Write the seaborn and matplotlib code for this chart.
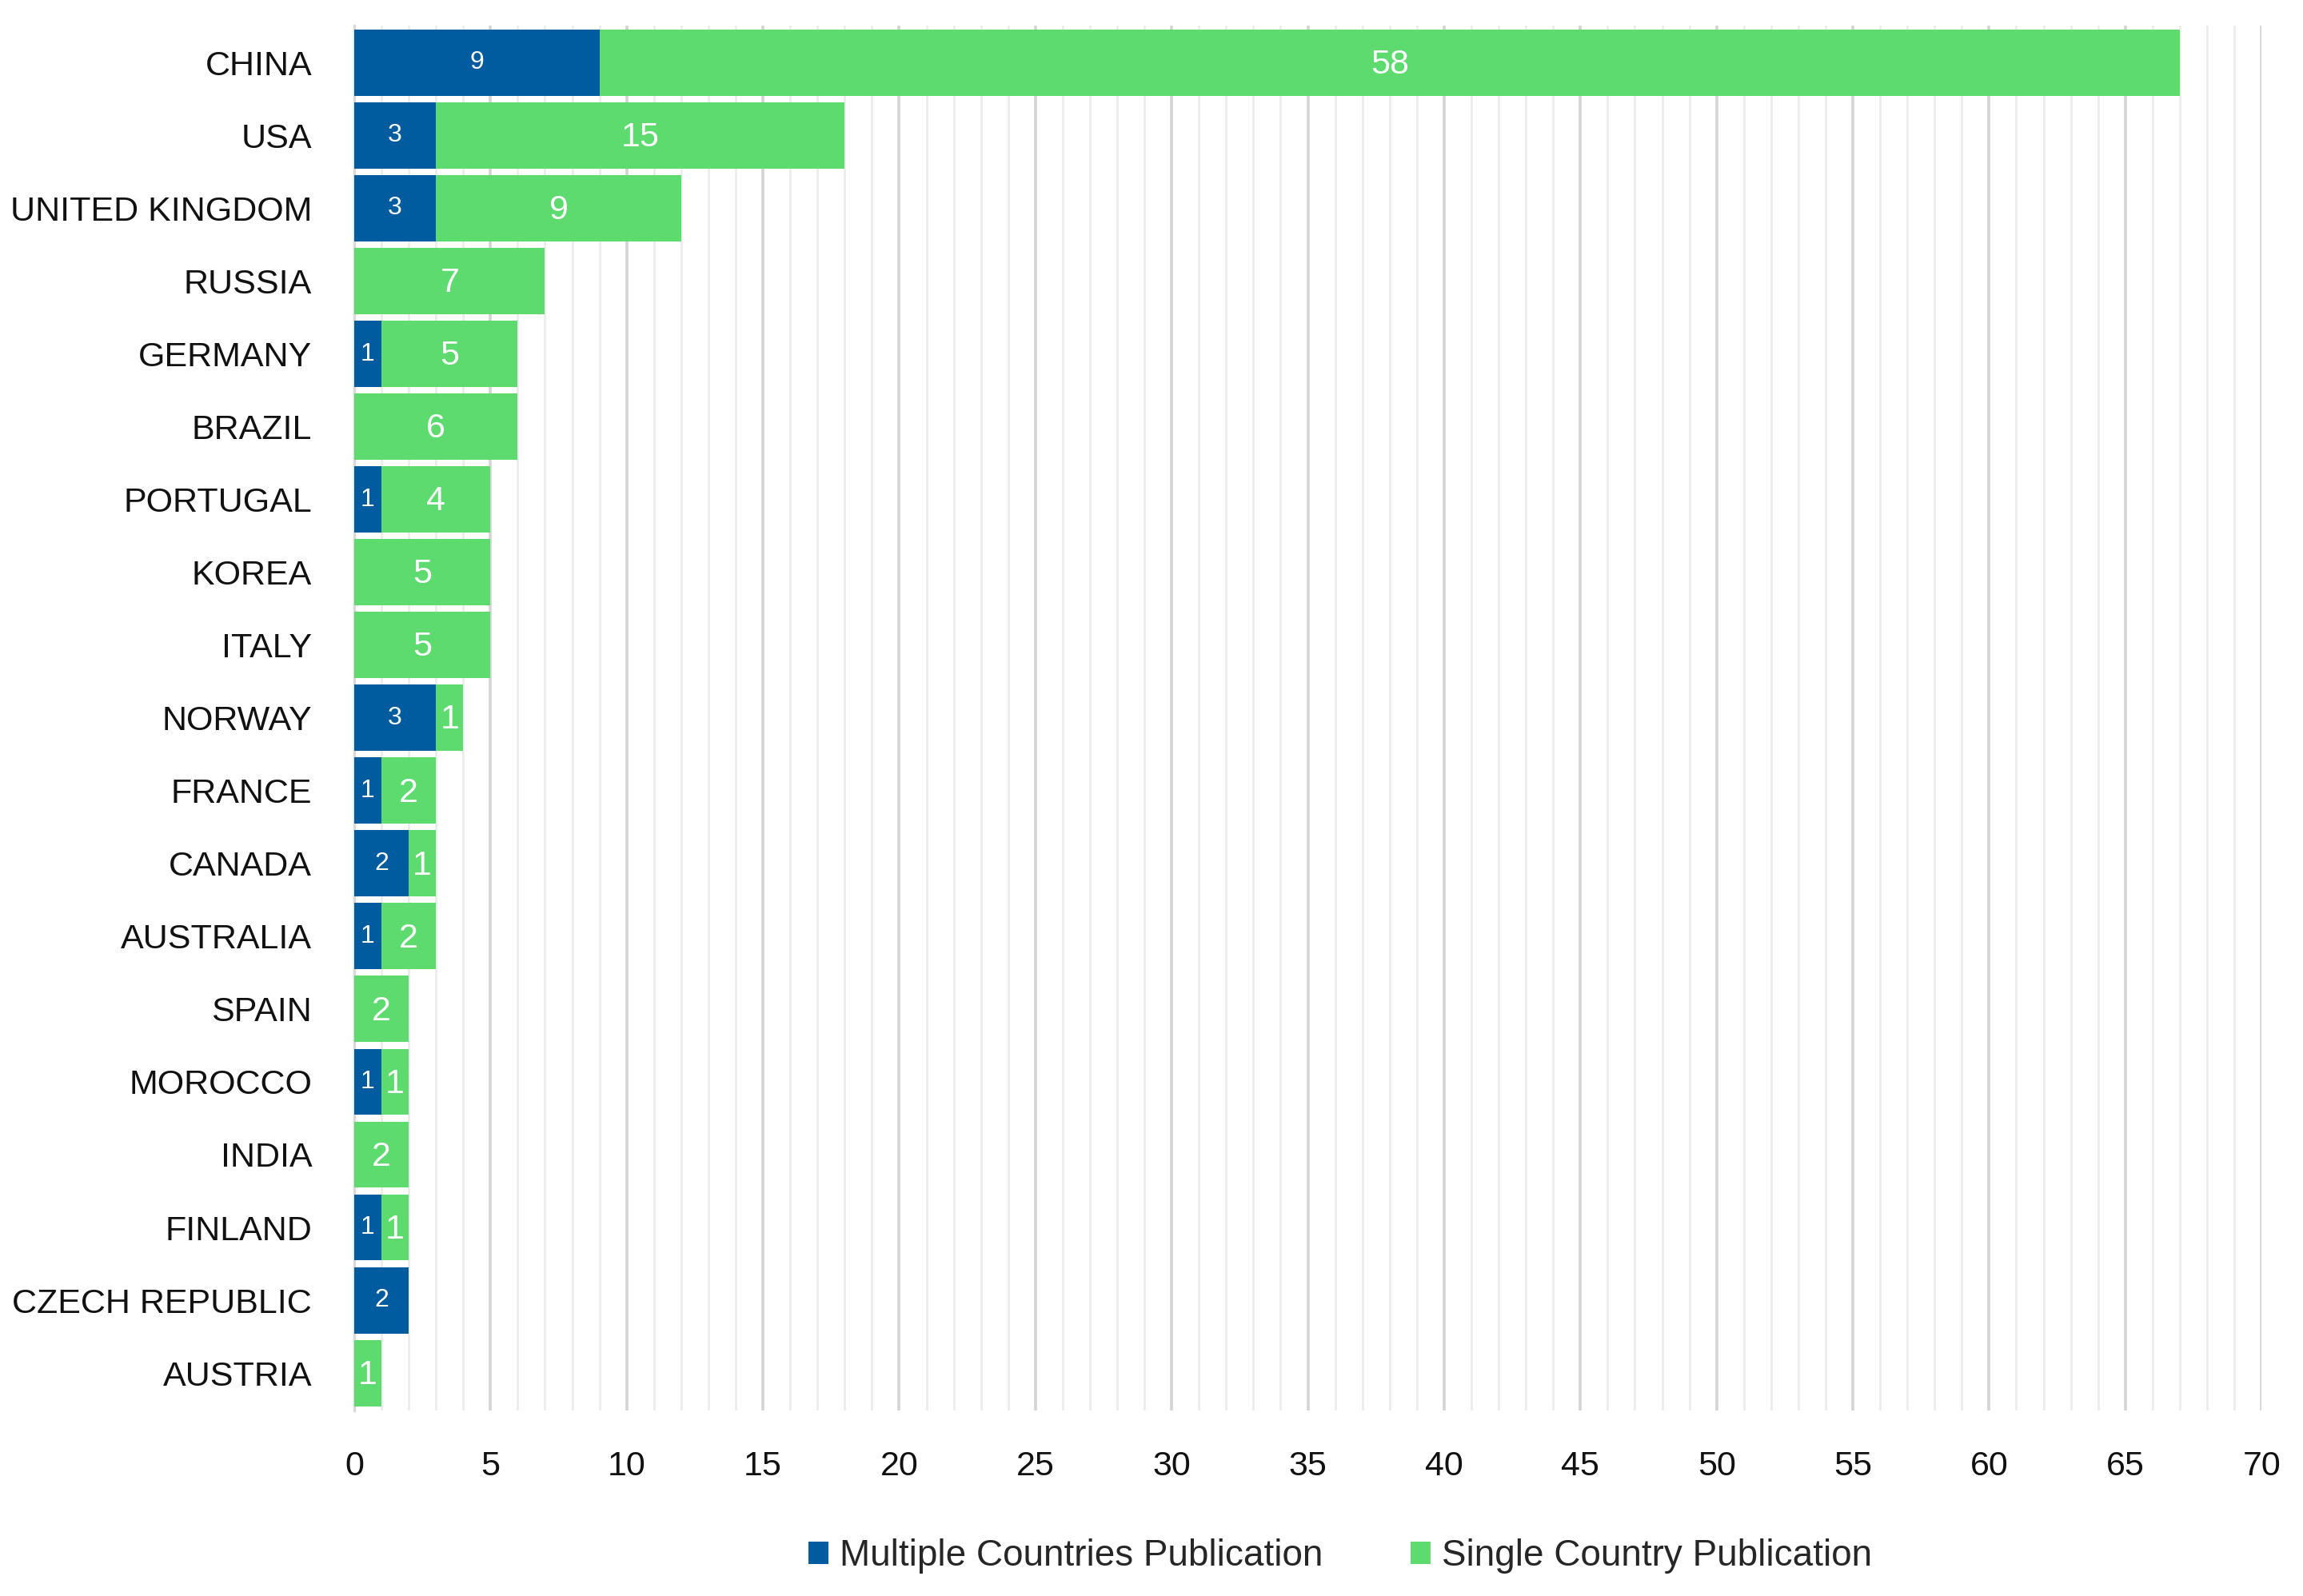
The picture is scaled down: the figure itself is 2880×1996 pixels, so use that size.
import matplotlib
matplotlib.use("Agg")
import matplotlib.pyplot as plt
import seaborn as sns
import pandas as pd
import numpy as np
from matplotlib.ticker import MultipleLocator
from matplotlib.patches import Patch

countries = ["CHINA", "USA", "UNITED KINGDOM", "RUSSIA", "GERMANY", "BRAZIL", "PORTUGAL",
             "KOREA", "ITALY", "NORWAY", "FRANCE", "CANADA", "AUSTRALIA", "SPAIN",
             "MOROCCO", "INDIA", "FINLAND", "CZECH REPUBLIC", "AUSTRIA"]
multiple = [9, 3, 3, 0, 1, 0, 1, 0, 0, 3, 1, 2, 1, 0, 1, 0, 1, 2, 0]
single = [58, 15, 9, 7, 5, 6, 4, 5, 5, 1, 2, 1, 2, 2, 1, 2, 1, 0, 1]
series_names = ["Multiple Countries Publication", "Single Country Publication"]

BLUE = "#005C9E"
GREEN = "#5EDB6E"

sns.set_theme(style="white")
plt.rcParams['font.family'] = ['Liberation Sans', 'DejaVu Sans']

df = pd.DataFrame({"country": countries, "multiple": multiple, "single": single})
df["total"] = df["multiple"] + df["single"]

fig = plt.figure(figsize=(14.4, 9.98), dpi=200)
ax = fig.add_axes([0.1538, 0.116, 0.982 - 0.1538, 0.868])

sns.barplot(data=df, x="total", y="country", color=GREEN, width=0.91, ax=ax,
            saturation=1, orient="h", zorder=3, linewidth=0)
sns.barplot(data=df, x="multiple", y="country", color=BLUE, width=0.91, ax=ax,
            saturation=1, orient="h", zorder=4, linewidth=0)

for i, (m, s) in enumerate(zip(df["multiple"], df["single"])):
    if m > 0:
        ax.text(m / 2, i, str(m), ha="center", va="center", color="white",
                fontsize=11.5, zorder=5)
    if s > 0:
        ax.text(m + s / 2, i + 0.03, str(s), ha="center", va="center", color="white",
                fontsize=15.5, zorder=5)

ax.set_xlim(0, 70)
ax.set_ylim(len(countries) - 0.5 + 0.02, -0.5 - 0.01)
ax.xaxis.set_major_locator(MultipleLocator(5))
ax.xaxis.set_minor_locator(MultipleLocator(1))
ax.grid(axis="x", which="major", color="#D4D4D4", linewidth=1.3, zorder=0)
ax.grid(axis="x", which="minor", color="#ECECEC", linewidth=1.0, zorder=0)
ax.set_axisbelow(True)
ax.set_xlabel("")
ax.set_ylabel("")
for sp in ["top", "right", "bottom"]:
    ax.spines[sp].set_visible(False)
ax.spines["left"].set_color("#D9D9D9")
ax.spines["left"].set_linewidth(1.2)
ax.tick_params(axis="y", length=0, pad=19, labelsize=15.5, labelcolor="#111111")
ax.tick_params(axis="x", which="both", length=0, pad=18, labelsize=15.5, labelcolor="#111111")

handles = [Patch(facecolor=BLUE, edgecolor="none"), Patch(facecolor=GREEN, edgecolor="none")]
fig.legend(handles, series_names, loc="center", bbox_to_anchor=(0.582, 0.025),
           ncol=2, frameon=False, handlelength=0.55, handleheight=0.55,
           handletextpad=0.3, columnspacing=2.4,
           prop={'family': ['Liberation Sans', 'DejaVu Sans'], 'size': 16.5})

fig.savefig("out.png", dpi=200)
